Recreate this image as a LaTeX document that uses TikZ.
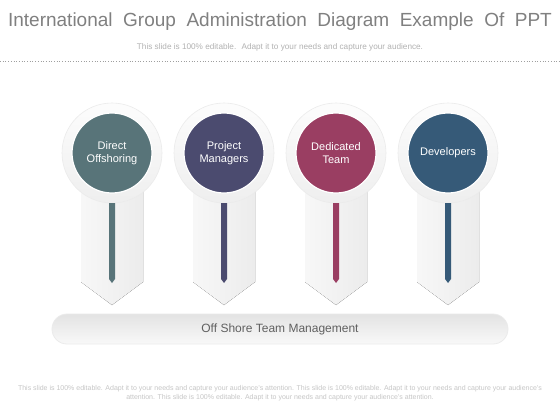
\documentclass[tikz,border=0pt]{standalone}
\usepackage{fontspec}
\setmainfont{Liberation Sans}
\usetikzlibrary{positioning}

\definecolor{offshore}{HTML}{587479}
\definecolor{managers}{HTML}{4B4B6F}
\definecolor{dedicated}{HTML}{9A3E62}
\definecolor{developers}{HTML}{365A78}

\begin{document}
\begin{tikzpicture}[x=1pt, y=-1pt,
    ringnode/.style={circle, minimum size=100pt, inner sep=0pt, top color=gray!2, bottom color=gray!13, draw=gray!16, line width=0.6pt},
    badgenode/.style={circle, minimum size=80pt, inner sep=0pt, draw=white, line width=1.2pt, text=white, align=center, font=\fontsize{11}{13.5}\selectfont},
    ribbonshape/.style={left color=gray!6, right color=gray!15, draw=none},
    barnode/.style={rectangle, rounded corners=15pt, minimum width=456pt, minimum height=30pt, top color=gray!22, bottom color=gray!5, draw=gray!16, line width=0.8pt, text=gray!75!black, font=\fontsize{12}{14}\selectfont}
]
\useasboundingbox[fill=white] (0,0) rectangle (560,420);

\node[text=gray, font=\fontsize{19}{22}\selectfont](title) at (280,22){International~ Group~ Administration~ Diagram~ Example~ Of~ PPT};
\node[text=gray!60, font=\fontsize{8.2}{10}\selectfont](subtitle) at (280,47){This slide is 100\% editable.~ Adapt it to your needs and capture your audience.};
\draw[dotted, gray!75, line width=0.7pt] (0,61) -- (560,61);

\foreach \x/\col/\txt/\n in {112/offshore/{Direct\\Offshoring}/1, 224/managers/{Project\\Managers}/2, 336/dedicated/{Dedicated\\Team}/3, 448/developers/{Developers}/4}{
    \fill[ribbonshape] (\x-31,190) -- (\x+31,190) -- (\x+31,282) -- (\x,305) -- (\x-31,282) -- cycle;
    \node[ringnode](ring\n) at (\x,153){};
    \node[badgenode, fill=\col](badge\n) at (\x,153){\txt};
    \fill[\col] (\x-3,203) -- (\x+3,203) -- (\x+3,279) -- (\x,283) -- (\x-3,279) -- cycle;
}

\node[barnode](bar) at (280,329){Off Shore Team Management};

\node[text=gray!45, align=center, font=\fontsize{7}{9.5}\selectfont](footer) at (280,393){This slide is 100\% editable. Adapt it to your needs and capture your audience's attention. This slide is 100\% editable. Adapt it to your needs and capture your audience's\\attention. This slide is 100\% editable. Adapt it to your needs and capture your audience's attention.};
\end{tikzpicture}
\end{document}
